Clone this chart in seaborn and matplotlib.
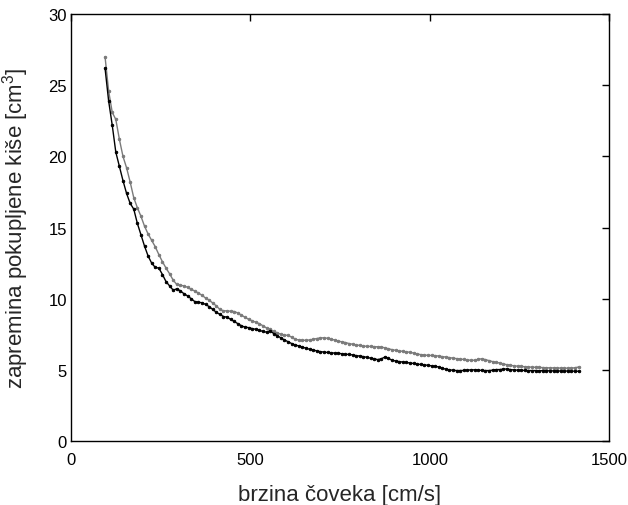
import matplotlib
matplotlib.use("Agg")
import matplotlib.pyplot as plt
import seaborn as sns
import pandas as pd

# speed [cm/s]
speed = [
    95, 105, 115, 125, 135, 145, 155, 165, 175, 185,
    195, 205, 215, 225, 235, 245, 255, 265, 275, 285,
    295, 305, 315, 325, 335, 345, 355, 365, 375, 385,
    395, 405, 415, 425, 435, 445, 455, 465, 475, 485,
    495, 505, 515, 525, 535, 545, 555, 565, 575, 585,
    595, 605, 615, 625, 635, 645, 655, 665, 675, 685,
    695, 705, 715, 725, 735, 745, 755, 765, 775, 785,
    795, 805, 815, 825, 835, 845, 855, 865, 875, 885,
    895, 905, 915, 925, 935, 945, 955, 965, 975, 985,
    995, 1005, 1015, 1025, 1035, 1045, 1055, 1065, 1075, 1085,
    1095, 1105, 1115, 1125, 1135, 1145, 1155, 1165, 1175, 1185,
    1195, 1205, 1215, 1225, 1235, 1245, 1255, 1265, 1275, 1285,
    1295, 1305, 1315, 1325, 1335, 1345, 1355, 1365, 1375, 1385,
    1395, 1405, 1415,
]

# collected rain volume [cm^3], black series
volume_black = [
    26.2, 23.9, 22.2, 20.3, 19.3, 18.3, 17.4, 16.7, 16.3, 15.3,
    14.5, 13.7, 13.0, 12.5, 12.2, 12.15, 11.7, 11.2, 10.9, 10.6,
    10.7, 10.55, 10.35, 10.2, 10.0, 9.8, 9.75, 9.72, 9.6, 9.45,
    9.25, 9.05, 8.9, 8.75, 8.7, 8.55, 8.4, 8.25, 8.1, 8.0,
    7.97, 7.9, 7.85, 7.78, 7.7, 7.65, 7.75, 7.55, 7.4, 7.25,
    7.1, 6.98, 6.85, 6.75, 6.68, 6.6, 6.52, 6.45, 6.4, 6.33,
    6.28, 6.25, 6.22, 6.2, 6.18, 6.17, 6.13, 6.1, 6.08, 6.05,
    6.0, 5.97, 5.93, 5.88, 5.82, 5.78, 5.72, 5.78, 5.9, 5.8,
    5.68, 5.62, 5.58, 5.55, 5.52, 5.48, 5.45, 5.4, 5.38, 5.35,
    5.32, 5.28, 5.25, 5.2, 5.12, 5.04, 5.0, 4.97, 4.95, 4.95,
    4.96, 4.98, 5.0, 5.0, 4.98, 4.96, 4.95, 4.95, 4.98, 5.02,
    5.02, 5.05, 5.06, 5.02, 4.99, 4.98, 4.97, 4.96, 4.95, 4.95,
    4.95, 4.94, 4.94, 4.94, 4.93, 4.93, 4.93, 4.92, 4.92, 4.92,
    4.91, 4.91, 4.9,
]

# collected rain volume [cm^3], gray series
volume_gray = [
    27.0, 24.6, 23.1, 22.6, 21.2, 20.0, 19.2, 18.2, 17.1, 16.4,
    15.8, 15.1, 14.55, 14.1, 13.65, 13.1, 12.6, 12.15, 11.75, 11.3,
    11.0, 10.95, 10.9, 10.8, 10.65, 10.55, 10.4, 10.25, 10.05, 9.9,
    9.7, 9.5, 9.25, 9.15, 9.15, 9.12, 9.1, 9.0, 8.85, 8.7,
    8.55, 8.45, 8.35, 8.25, 8.1, 7.95, 7.85, 7.7, 7.6, 7.5,
    7.45, 7.42, 7.3, 7.15, 7.1, 7.08, 7.08, 7.1, 7.15, 7.2,
    7.25, 7.25, 7.22, 7.15, 7.1, 7.02, 6.97, 6.92, 6.85, 6.8,
    6.75, 6.72, 6.68, 6.65, 6.65, 6.63, 6.62, 6.6, 6.55, 6.48,
    6.42, 6.37, 6.33, 6.3, 6.27, 6.23, 6.18, 6.12, 6.07, 6.04,
    6.02, 6.01, 6.0, 5.97, 5.93, 5.9, 5.86, 5.82, 5.79, 5.76,
    5.73, 5.7, 5.67, 5.68, 5.74, 5.78, 5.72, 5.65, 5.58, 5.53,
    5.48, 5.42, 5.36, 5.32, 5.28, 5.26, 5.24, 5.22, 5.2, 5.19,
    5.18, 5.17, 5.16, 5.15, 5.14, 5.14, 5.13, 5.13, 5.12, 5.12,
    5.12, 5.15, 5.2,
]

x_ticks = [0, 500, 1000, 1500]
y_ticks = [0, 5, 10, 15, 20, 25, 30]

sns.set_style("white")
plt.rcParams["font.family"] = ["Liberation Sans", "DejaVu Sans"]
plt.rcParams["mathtext.default"] = "regular"

df_b = pd.DataFrame({"speed": speed, "volume": volume_black})
df_g = pd.DataFrame({"speed": speed, "volume": volume_gray})

fig = plt.figure(figsize=(6.28, 5.06), dpi=100)
ax = fig.add_axes([0.113, 0.1265, 0.857, 0.8435])

sns.lineplot(data=df_g, x="speed", y="volume", ax=ax, color="#7a7a7a",
             linewidth=1.0, marker=".", markersize=3.5,
             markeredgecolor="#7a7a7a", markerfacecolor="#7a7a7a")
sns.lineplot(data=df_b, x="speed", y="volume", ax=ax, color="black",
             linewidth=1.0, marker=".", markersize=3.5,
             markeredgecolor="black", markerfacecolor="black")

ax.set_xlim(0, 1500)
ax.set_ylim(0, 30)
ax.set_xticks(x_ticks)
ax.set_yticks(y_ticks)
ax.tick_params(direction="in", length=5, width=1, top=True, right=True,
               labelsize=12, colors="black")
ax.tick_params(axis="x", pad=8)
ax.tick_params(axis="y", pad=3)
for s in ax.spines.values():
    s.set_visible(True)
    s.set_color("black")
    s.set_linewidth(1.0)

ax.set_xlabel("brzina čoveka [cm/s]", fontsize=16)
ax.set_ylabel("zapremina pokupljene kiše [cm$^3$]", fontsize=16)
ax.xaxis.set_label_coords(0.5, -0.10)
ax.yaxis.set_label_coords(-0.074, 0.5)

fig.savefig("out.png", dpi=100)
